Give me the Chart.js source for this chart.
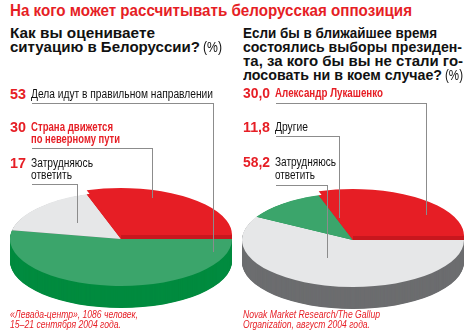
<!DOCTYPE html>
<html>
<head>
<meta charset="utf-8">
<script src="https://cdn.jsdelivr.net/npm/chart.js@4"></script>
<style>
  body { margin: 0; background: #fff; }
  #page { position: relative; width: 468px; height: 333px; overflow: hidden; font-family: "Liberation Sans", Arial, sans-serif; }
  .t { position: absolute; white-space: nowrap; line-height: 1; transform-origin: 0 0; z-index: 6; }
  .ln { position: absolute; background: #8c8c8c; z-index: 5; }
  canvas { position: absolute; }
</style>
</head>
<body>
<div id="page">
  <canvas id="leftPie" width="222" height="222" style="left:10px;top:128px"></canvas>
  <canvas id="rightPie" width="222" height="222" style="left:242px;top:129px"></canvas>
</div>
<script>
// ===== Data =====
let title = "На кого может рассчитывать белорусская оппозиция";

let leftQuestion = ["Как вы оцениваете", "ситуацию в Белоруссии?"];
let leftLabels = ["Дела идут в правильном направлении", "Страна движется\nпо неверному пути", "Затрудняюсь\nответить"];
let leftValues = [53, 30, 17];
let leftSource = ["«Левада-центр», 1086 человек,", "15–21 сентября 2004 года."];

let rightQuestion = ["Если бы в ближайшее время", "состоялись выборы президен-", "та, за кого бы вы не стали го-", "лосовать ни в коем случае?"];
let rightLabels = ["Александр Лукашенко", "Другие", "Затрудняюсь\nответить"];
let rightValues = [30.0, 11.8, 58.2];
let rightSource = ["Novak Market Research/The Gallup", "Organization, август 2004 года."];

// ===== Colors =====
let RED = "#e61e25", GREEN = "#3ba56b", GRAY = "#e6e7e8";
let RED_SIDE = "#c8171e", GREEN_SIDE = "#008b3f", GRAY_SIDE = "#6c6d6f";

let page = document.getElementById("page");

// ===== Text helpers =====
function txt(str, x, base, size, w, style) {
  let d = document.createElement("div");
  d.className = "t";
  d.textContent = str;
  d.style.left = x + "px";
  d.style.top = (base - 0.847 * size) + "px";
  d.style.fontSize = size + "px";
  Object.assign(d.style, style || {});
  page.appendChild(d);
  if (w) {
    let real = d.getBoundingClientRect().width;
    d.style.transform = "scaleX(" + (w / real) + ")";
  }
  return d;
}

function hline(x1, x2, y) {
  let d = document.createElement("div");
  d.className = "ln";
  d.style.left = x1 + "px";
  d.style.top = y + "px";
  d.style.width = (x2 - x1 + 1) + "px";
  d.style.height = "1px";
  page.appendChild(d);
}

function vline(x, y1, y2) {
  let d = document.createElement("div");
  d.className = "ln";
  d.style.left = x + "px";
  d.style.top = y1 + "px";
  d.style.width = "1px";
  d.style.height = (y2 - y1) + "px";
  page.appendChild(d);
}

let bold = { fontWeight: "bold", color: "#111" };
let redBold = { fontWeight: "bold", color: RED, fontFamily: "'Liberation Sans Narrow', 'Liberation Sans', sans-serif" };
let narrow = { color: "#111", fontFamily: "'Liberation Sans Narrow', 'Liberation Sans', sans-serif" };
let source = { color: RED, fontStyle: "italic", fontFamily: "'Liberation Sans Narrow', 'Liberation Sans', sans-serif" };

// ===== Headings =====
txt(title, 10, 17, 16, 402, { fontWeight: "bold", color: RED });

txt(leftQuestion[0], 10, 38, 14, 145, bold);
txt(leftQuestion[1], 10, 52, 14, 190, bold);
txt("(%)", 203, 52, 14, 19, { color: "#111" });

let rq = [194, 219, 220, 199];
rightQuestion.forEach((s, i) => txt(s, 243, 38 + i * 14, 14, rq[i], bold));
txt("(%)", 445, 80, 14, 18, { color: "#111" });

// ===== Labels =====
let leftRows = [
  { base: 99, w: [182], style: narrow },
  { base: 132, w: [82, 89], style: redBold },
  { base: 168, w: [62, 41], style: narrow }
];
leftRows.forEach((r, i) => {
  txt(String(leftValues[i]), 10, r.base, 15, 16, redBold);
  leftLabels[i].split("\n").forEach((s, k) => txt(s, 31, r.base + k * 12, 12.5, r.w[k], r.style));
});

let rightRows = [
  { base: 98, w: [108], style: redBold },
  { base: 132, w: [33], style: narrow },
  { base: 167, w: [61, 40], style: narrow }
];
rightRows.forEach((r, i) => {
  txt(rightValues[i].toFixed(1).replace(".", ","), 243, r.base, 15, 27, redBold);
  rightLabels[i].split("\n").forEach((s, k) => txt(s, 275, r.base + k * 13, 12.5, r.w[k], r.style));
});

// ===== Callout lines =====
hline(32, 213, 103); vline(213, 103, 252);
hline(32, 152, 148); vline(152, 148, 198);
hline(32, 77, 184);  vline(77, 184, 223);

hline(276, 426, 103); vline(426, 103, 215);
hline(276, 339, 136); vline(339, 136, 218);
hline(276, 327, 185); vline(327, 185, 258);

// ===== Sources =====
txt(leftSource[0], 10, 318, 11, 128, source);
txt(leftSource[1], 10, 328, 11, 111, source);
txt(rightSource[0], 243, 318, 11, 137, source);
txt(rightSource[1], 243, 328, 11, 127, source);

// ===== 3D tilt plugin =====
function wedge(ctx, arc, off) {
  ctx.beginPath();
  ctx.moveTo(arc.x, arc.y + off);
  ctx.arc(arc.x, arc.y + off, arc.outerRadius, arc.startAngle, arc.endAngle);
  ctx.closePath();
  ctx.fill();
}

let tilt3d = {
  id: "tilt3d",
  beforeDatasetsDraw(chart, args, opts) {
    let ctx = chart.ctx;
    let arcs = chart.getDatasetMeta(0).data;
    let cx = arcs[0].x, cy = arcs[0].y;
    ctx.save();
    ctx.translate(cx, cy);
    ctx.scale(1, opts.tilt);
    ctx.translate(-cx, -cy);

    // side walls
    for (let d = opts.depth; d > 0; d -= 0.5) {
      arcs.forEach((arc, i) => {
        ctx.fillStyle = opts.sides[i];
        wedge(ctx, arc, d / opts.tilt);
      });
    }
  },
  afterDatasetsDraw(chart, args, opts) {
    let ctx = chart.ctx;
    let arc = chart.getDatasetMeta(0).data[opts.raised];
    let lift = opts.lift / opts.tilt;
    // red slice sits a little higher: its front cut edge shows as a darker band
    ctx.fillStyle = opts.sides[opts.raised];
    ctx.fillRect(arc.x, arc.y - lift, arc.outerRadius, lift);
    ctx.fillStyle = arc.options.backgroundColor;
    wedge(ctx, arc, -lift);
    ctx.restore();
  }
};

function makePie(id, labels, values, colors, sides, order) {
  return new Chart(document.getElementById(id), {
    type: "pie",
    data: {
      labels: order.map(i => labels[i]),
      datasets: [{
        data: order.map(i => values[i]),
        backgroundColor: order.map(i => colors[i]),
        borderWidth: 0,
        clip: false
      }]
    },
    options: {
      responsive: false,
      animation: false,
      devicePixelRatio: 1,
      rotation: 90,
      events: [],
      layout: { padding: 0 },
      plugins: {
        legend: { display: false },
        tooltip: { enabled: false },
        tilt3d: { tilt: 0.423, depth: 22, lift: 4, raised: 2, sides: order.map(i => sides[i]) }
      }
    },
    plugins: [tilt3d]
  });
}

// ===== Init =====
makePie("leftPie", leftLabels, leftValues, [GREEN, RED, GRAY], [GREEN_SIDE, RED_SIDE, GRAY_SIDE], [0, 2, 1]);
makePie("rightPie", rightLabels, rightValues, [RED, GREEN, GRAY], [RED_SIDE, GREEN_SIDE, GRAY_SIDE], [2, 1, 0]);
</script>
</body>
</html>
